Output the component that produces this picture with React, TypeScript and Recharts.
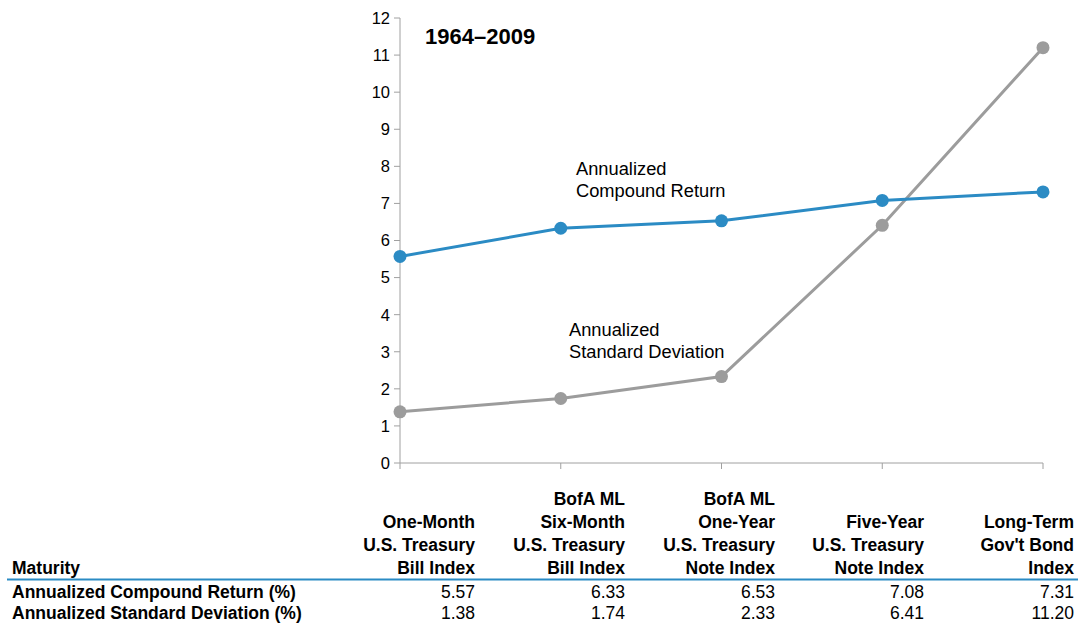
import React from "react";
import { LineChart, Line, XAxis, YAxis } from "recharts";

const categories = ["1M T-Bill", "6M T-Bill", "1Y T-Note", "5Y T-Note", "LT Gov Bond"];
const headerLabels: string[][] = [
  ["One-Month", "U.S. Treasury", "Bill Index"],
  ["BofA ML", "Six-Month", "U.S. Treasury", "Bill Index"],
  ["BofA ML", "One-Year", "U.S. Treasury", "Note Index"],
  ["Five-Year", "U.S. Treasury", "Note Index"],
  ["Long-Term", "Gov't Bond", "Index"],
];
const compoundReturn = [5.57, 6.33, 6.53, 7.08, 7.31];
const standardDeviation = [1.38, 1.74, 2.33, 6.41, 11.2];
const yTicks = [0, 1, 2, 3, 4, 5, 6, 7, 8, 9, 10, 11, 12];
const rowLabels = ["Maturity", "Annualized Compound Return (%)", "Annualized Standard Deviation (%)"];

const BLUE = "#2B8BC4";
const GREY = "#9C9C9C";
const AXIS = "#A0A0A0";
const FONT = "'Liberation Sans', Arial, Helvetica, sans-serif";
const TABLE_FS = 17.5;

const data = categories.map((c, i) => ({
  name: c,
  ret: compoundReturn[i],
  sd: standardDeviation[i],
}));

const colRight = [475, 625, 775, 924, 1074];

export default function App() {
  return (
    <div style={{ position: "absolute", left: 0, top: 0, width: 1080, height: 625, background: "#fff", fontFamily: FONT }}>
      <LineChart width={1080} height={480} data={data} margin={{ top: 18, right: 37, left: 0, bottom: 0 }}>
        <XAxis
          dataKey="name"
          height={17}
          stroke={AXIS}
          tickLine={{ stroke: AXIS }}
          tickSize={6}
          tick={() => <g />}
          interval={0}
        />
        <YAxis
          width={400}
          domain={[0, 12]}
          ticks={yTicks}
          interval={0}
          stroke={AXIS}
          tickLine={{ stroke: AXIS }}
          tickSize={6}
          tickMargin={4}
          tick={{ fill: "#000", fontSize: 16.5, fontFamily: FONT }}
        />
        <Line
          dataKey="sd"
          stroke={GREY}
          strokeWidth={3}
          dot={{ r: 6.5, fill: GREY, stroke: GREY, strokeWidth: 0 }}
          isAnimationActive={false}
        />
        <Line
          dataKey="ret"
          stroke={BLUE}
          strokeWidth={3}
          dot={{ r: 6.5, fill: BLUE, stroke: BLUE, strokeWidth: 0 }}
          isAnimationActive={false}
        />
      </LineChart>
      <svg
        width={1080}
        height={625}
        style={{ position: "absolute", left: 0, top: 0, pointerEvents: "none" }}
        fontFamily={FONT}
      >
        <text x={425} y={44} fontSize={22} fontWeight="bold" fill="#000">1964–2009</text>
        <text x={576} y={175} fontSize={18.3} fill="#000">Annualized</text>
        <text x={576} y={197} fontSize={18.3} fill="#000">Compound Return</text>
        <text x={569} y={336} fontSize={18.3} fill="#000">Annualized</text>
        <text x={569} y={358} fontSize={18.3} fill="#000">Standard Deviation</text>

        {headerLabels.map((lines, ci) =>
          lines.map((ln, li) => (
            <text
              key={`h${ci}-${li}`}
              x={colRight[ci]}
              y={574 - (lines.length - 1 - li) * 23}
              fontSize={TABLE_FS}
              fontWeight="bold"
              textAnchor="end"
              fill="#000"
            >
              {ln}
            </text>
          ))
        )}
        <text x={12} y={574} fontSize={TABLE_FS} fontWeight="bold" fill="#000">{rowLabels[0]}</text>
        <line x1={7} x2={1078} y1={579.5} y2={579.5} stroke={BLUE} strokeWidth={2} />
        <text x={12} y={598} fontSize={TABLE_FS} fontWeight="bold" fill="#000">{rowLabels[1]}</text>
        <text x={12} y={619} fontSize={TABLE_FS} fontWeight="bold" fill="#000">{rowLabels[2]}</text>
        {compoundReturn.map((v, i) => (
          <text key={`r${i}`} x={colRight[i]} y={598} fontSize={TABLE_FS} textAnchor="end" fill="#000">
            {v.toFixed(2)}
          </text>
        ))}
        {standardDeviation.map((v, i) => (
          <text key={`s${i}`} x={colRight[i]} y={619} fontSize={TABLE_FS} textAnchor="end" fill="#000">
            {v.toFixed(2)}
          </text>
        ))}
      </svg>
    </div>
  );
}
